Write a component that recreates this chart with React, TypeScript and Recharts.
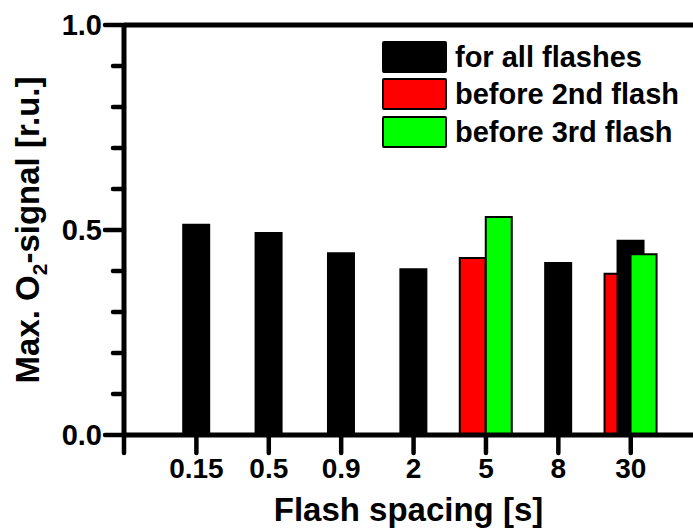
import React from 'react';
import { ComposedChart, Bar, XAxis, YAxis, ReferenceLine, Legend } from 'recharts';

// Flash spacing categories (s) and the measured maximum O2 signal (relative units)
const categories = ['0.15', '0.5', '0.9', '2', '5', '8', '30'];
const allFlashes = [0.515, 0.495, 0.446, 0.407, null, 0.422, 0.476];
const before2nd = [null, null, null, null, 0.432, null, 0.393];
const before3rd = [null, null, null, null, 0.532, null, 0.441];

const yTicks = [0, 0.1, 0.2, 0.3, 0.4, 0.5, 0.6, 0.7, 0.8, 0.9, 1.0];
const yMajor = [0, 0.5, 1.0];

const FONT = '"Liberation Sans", Arial, Helvetica, sans-serif';

const series = [
  { key: 'second', name: 'before 2nd flash', color: '#ff0000', size: 26, outlined: true },
  { key: 'all', name: 'for all flashes', color: '#000000', size: 28, outlined: false },
  { key: 'third', name: 'before 3rd flash', color: '#00ff00', size: 26, outlined: true },
];
const legendOrder = ['all', 'second', 'third'];

const data = categories.map((label, i) => ({
  pos: i + 1,
  label,
  all: allFlashes[i],
  second: before2nd[i],
  third: before3rd[i],
}));

const xTickValues = [0, ...data.map((d) => d.pos)];

const XTick = (props: any) => {
  const { x, y, payload } = props;
  const idx = payload.value - 1;
  const text = idx >= 0 ? categories[idx] : '';
  return (
    <g>
      <line x1={x} y1={y} x2={x} y2={y + 18} stroke="#000" strokeWidth={4.5} strokeLinecap="round" />
      {text && (
        <text x={x} y={y + 43} textAnchor="middle" fontFamily={FONT} fontWeight="bold" fontSize={28} fill="#000">
          {text}
        </text>
      )}
    </g>
  );
};

const YTick = (props: any) => {
  const { x, y, payload } = props;
  const v = payload.value;
  const major = yMajor.some((m) => Math.abs(m - v) < 1e-6);
  const len = major ? 19 : 11;
  return (
    <g>
      <line x1={x - len} y1={y} x2={x} y2={y} stroke="#000" strokeWidth={4.5} strokeLinecap="round" />
      {major && (
        <text x={x - 22} y={y + 10} textAnchor="end" fontFamily={FONT} fontWeight="bold" fontSize={29} fill="#000">
          {v.toFixed(1)}
        </text>
      )}
    </g>
  );
};

const YTitle = (props: any) => {
  const vb = props.viewBox || { x: 0, y: 25, width: 124, height: 410 };
  const cx = 39;
  const cy = vb.y + vb.height / 2;
  return (
    <text
      x={cx}
      y={cy}
      transform={`rotate(-90, ${cx}, ${cy})`}
      textAnchor="middle"
      fontFamily={FONT}
      fontWeight="bold"
      fontSize={33}
      fill="#000"
    >
      Max. O
      <tspan dy={8} fontSize={21}>2</tspan>
      <tspan dy={-8}>-signal [r.u.]</tspan>
    </text>
  );
};

const XTitle = (props: any) => {
  const vb = props.viewBox || { x: 124, y: 435, width: 569, height: 94 };
  return (
    <text
      x={vb.x + vb.width / 2}
      y={521}
      textAnchor="middle"
      fontFamily={FONT}
      fontWeight="bold"
      fontSize={33}
      fill="#000"
    >
      Flash spacing [s]
    </text>
  );
};

const LegendBox = () => (
  <div style={{ fontFamily: FONT, fontWeight: 'bold', fontSize: 29, color: '#000' }}>
    {legendOrder.map((k) => {
      const s = series.find((q) => q.key === k)!;
      return (
        <div key={k} style={{ display: 'flex', alignItems: 'center', height: 37.5 }}>
          <div
            style={{
              width: 65,
              height: 32,
              boxSizing: 'border-box',
              background: s.color,
              border: '2.5px solid #000',
              borderRadius: 2,
              marginRight: 8,
            }}
          />
          <span style={{ lineHeight: '32px', whiteSpace: 'nowrap' }}>{s.name}</span>
        </div>
      );
    })}
  </div>
);

export default function App() {
  return (
    <div style={{ position: 'absolute', left: 0, top: 0 }}>
      <ComposedChart
        width={693}
        height={529}
        data={data}
        margin={{ top: 25, right: 0, bottom: 0, left: 0 }}
        barGap={-14}
      >
        <XAxis
          dataKey="pos"
          type="number"
          domain={[0, 7.86]}
          ticks={xTickValues}
          interval={0}
          allowDataOverflow
          height={94}
          tickSize={0}
          tickMargin={0}
          tick={<XTick />}
          axisLine={{ stroke: '#000', strokeWidth: 5 }}
          tickLine={false}
          label={{ content: <XTitle /> }}
        />
        <YAxis
          type="number"
          domain={[0, 1]}
          ticks={yTicks}
          interval={0}
          width={124}
          tickSize={0}
          tickMargin={0}
          tick={<YTick />}
          axisLine={{ stroke: '#000', strokeWidth: 5 }}
          tickLine={false}
          label={{ content: <YTitle /> }}
        />
        <ReferenceLine y={1} stroke="#000" strokeWidth={5} ifOverflow="visible" />
        {series.map((s) => (
          <Bar
            key={s.key}
            dataKey={s.key}
            name={s.name}
            fill={s.color}
            stroke={s.outlined ? '#000' : 'none'}
            strokeWidth={s.outlined ? 2 : 0}
            barSize={s.size}
            isAnimationActive={false}
          />
        ))}
        <Legend
          layout="vertical"
          align="center"
          verticalAlign="middle"
          content={<LegendBox />}
          wrapperStyle={{ position: 'absolute', left: 382, top: 38, width: 310, height: 115 }}
        />
      </ComposedChart>
    </div>
  );
}
